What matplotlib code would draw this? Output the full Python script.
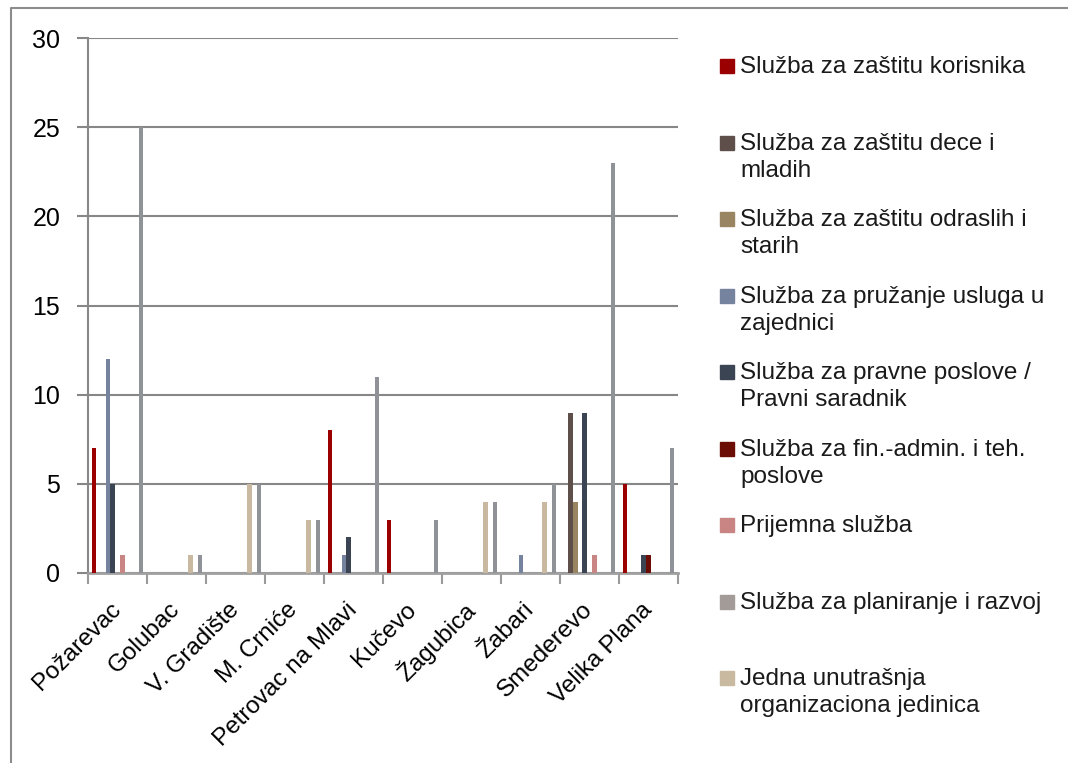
import matplotlib.pyplot as plt
from matplotlib.patches import Rectangle
import numpy as np

plt.rcParams['font.family'] = ['Liberation Sans', 'DejaVu Sans']

opstine = ["Požarevac", "Golubac", "V. Gradište", "M. Crniće", "Petrovac na Mlavi",
           "Kučevo", "Žagubica", "Žabari", "Smederevo", "Velika Plana"]

sluzbe = ["Služba za zaštitu korisnika",
          "Služba za zaštitu dece i\nmladih",
          "Služba za zaštitu odraslih i\nstarih",
          "Služba za pružanje usluga u\nzajednici",
          "Služba za pravne poslove /\nPravni saradnik",
          "Služba za fin.-admin. i teh.\nposlove",
          "Prijemna služba",
          "Služba za planiranje i razvoj",
          "Jedna unutrašnja\norganizaciona jedinica"]

zastita_korisnika = [7, 0, 0, 0, 8, 3, 0, 0, 0, 5]
deca_mladi        = [0, 0, 0, 0, 0, 0, 0, 0, 9, 0]
odrasli_stari     = [0, 0, 0, 0, 0, 0, 0, 0, 4, 0]
usluge_zajednica  = [12, 0, 0, 0, 1, 0, 0, 1, 0, 0]
pravni            = [5, 0, 0, 0, 2, 0, 0, 0, 9, 1]
fin_admin         = [0, 0, 0, 0, 0, 0, 0, 0, 0, 1]
prijemna          = [1, 0, 0, 0, 0, 0, 0, 0, 1, 0]
jedna_jedinica    = [0, 1, 5, 3, 0, 0, 4, 4, 0, 0]
planiranje        = [25, 1, 5, 3, 11, 3, 4, 5, 23, 7]

# bar colours and legend colours (legend grey is a bit warmer in the original)
bar_colors = ['#9b0000', '#5f4f4a', '#9a8562', '#76839e', '#3a4453',
              '#6b0d05', '#c98584', '#c8b9a0', '#8f9297']
leg_colors = ['#9b0000', '#5f4f4a', '#9a8562', '#76839e', '#3a4453',
              '#6b0d05', '#c98584', '#a39b98', '#c8b9a0']

series = [zastita_korisnika, deca_mladi, odrasli_stari, usluge_zajednica,
          pravni, fin_admin, prijemna, jedna_jedinica, planiranje]
# the original workbook has 11 series slots per group, two of them empty
slots = [0, 1, 2, 3, 4, 5, 6, 8, 10]
n_slots = 11
w = 0.0791

fig = plt.figure(figsize=(10.68, 7.63), dpi=100)
ax = fig.add_axes([88/1068, 1 - 573/763, 590/1068, 535/763])

x = np.arange(len(opstine))
for vals, s, c in zip(series, slots, bar_colors):
    ax.bar(x + (s - (n_slots - 1)/2)*w, vals, width=w, color=c, linewidth=0, zorder=3)

ax.set_xlim(-0.5, len(opstine) - 0.5)
ax.set_ylim(0, 30)
ax.set_yticks(range(0, 31, 5))
ax.yaxis.grid(True, color='#878787', linewidth=1.5, zorder=0)
ax.tick_params(axis='y', length=8, width=1.5, color='#878787', labelsize=18, pad=12)

ax.set_xticks(x)
ax.set_xticklabels(opstine, rotation=45, ha='right', va='center', rotation_mode='anchor')
ax.tick_params(axis='x', which='major', length=0, labelsize=17.5, pad=24)
ax.set_xticks(np.arange(-0.5, len(opstine)), minor=True)
ax.tick_params(axis='x', which='minor', length=8, width=1.5, color='#9a9a9a')

for side in ['top', 'right']:
    ax.spines[side].set_visible(False)
ax.spines['left'].set_color('#888888')
ax.spines['left'].set_linewidth(1.5)
ax.spines['bottom'].set_color('#a0a0a0')
ax.spines['bottom'].set_linewidth(2)

# overlay in pixel coordinates for frame and legend
lax = fig.add_axes([0, 0, 1, 1], zorder=-1)
lax.set_xlim(0, 1068)
lax.set_ylim(763, 0)
lax.axis('off')
lax.plot([11, 11, 1068], [763, 8, 8], color='#8c8c8c', linewidth=1.5)

tax = fig.add_axes([0, 0, 1, 1], zorder=5)
tax.set_xlim(0, 1068)
tax.set_ylim(763, 0)
tax.axis('off')
for i, (lab, c) in enumerate(zip(sluzbe, leg_colors)):
    base = 73.3 + i*76.5
    tax.add_patch(Rectangle((720, base - 14), 14, 14, color=c))
    for j, line in enumerate(lab.split('\n')):
        tax.text(740, base + j*27, line, fontsize=17.5, va='baseline', ha='left',
                 color='#1a1a1a')

fig.savefig('out.png', dpi=100)
